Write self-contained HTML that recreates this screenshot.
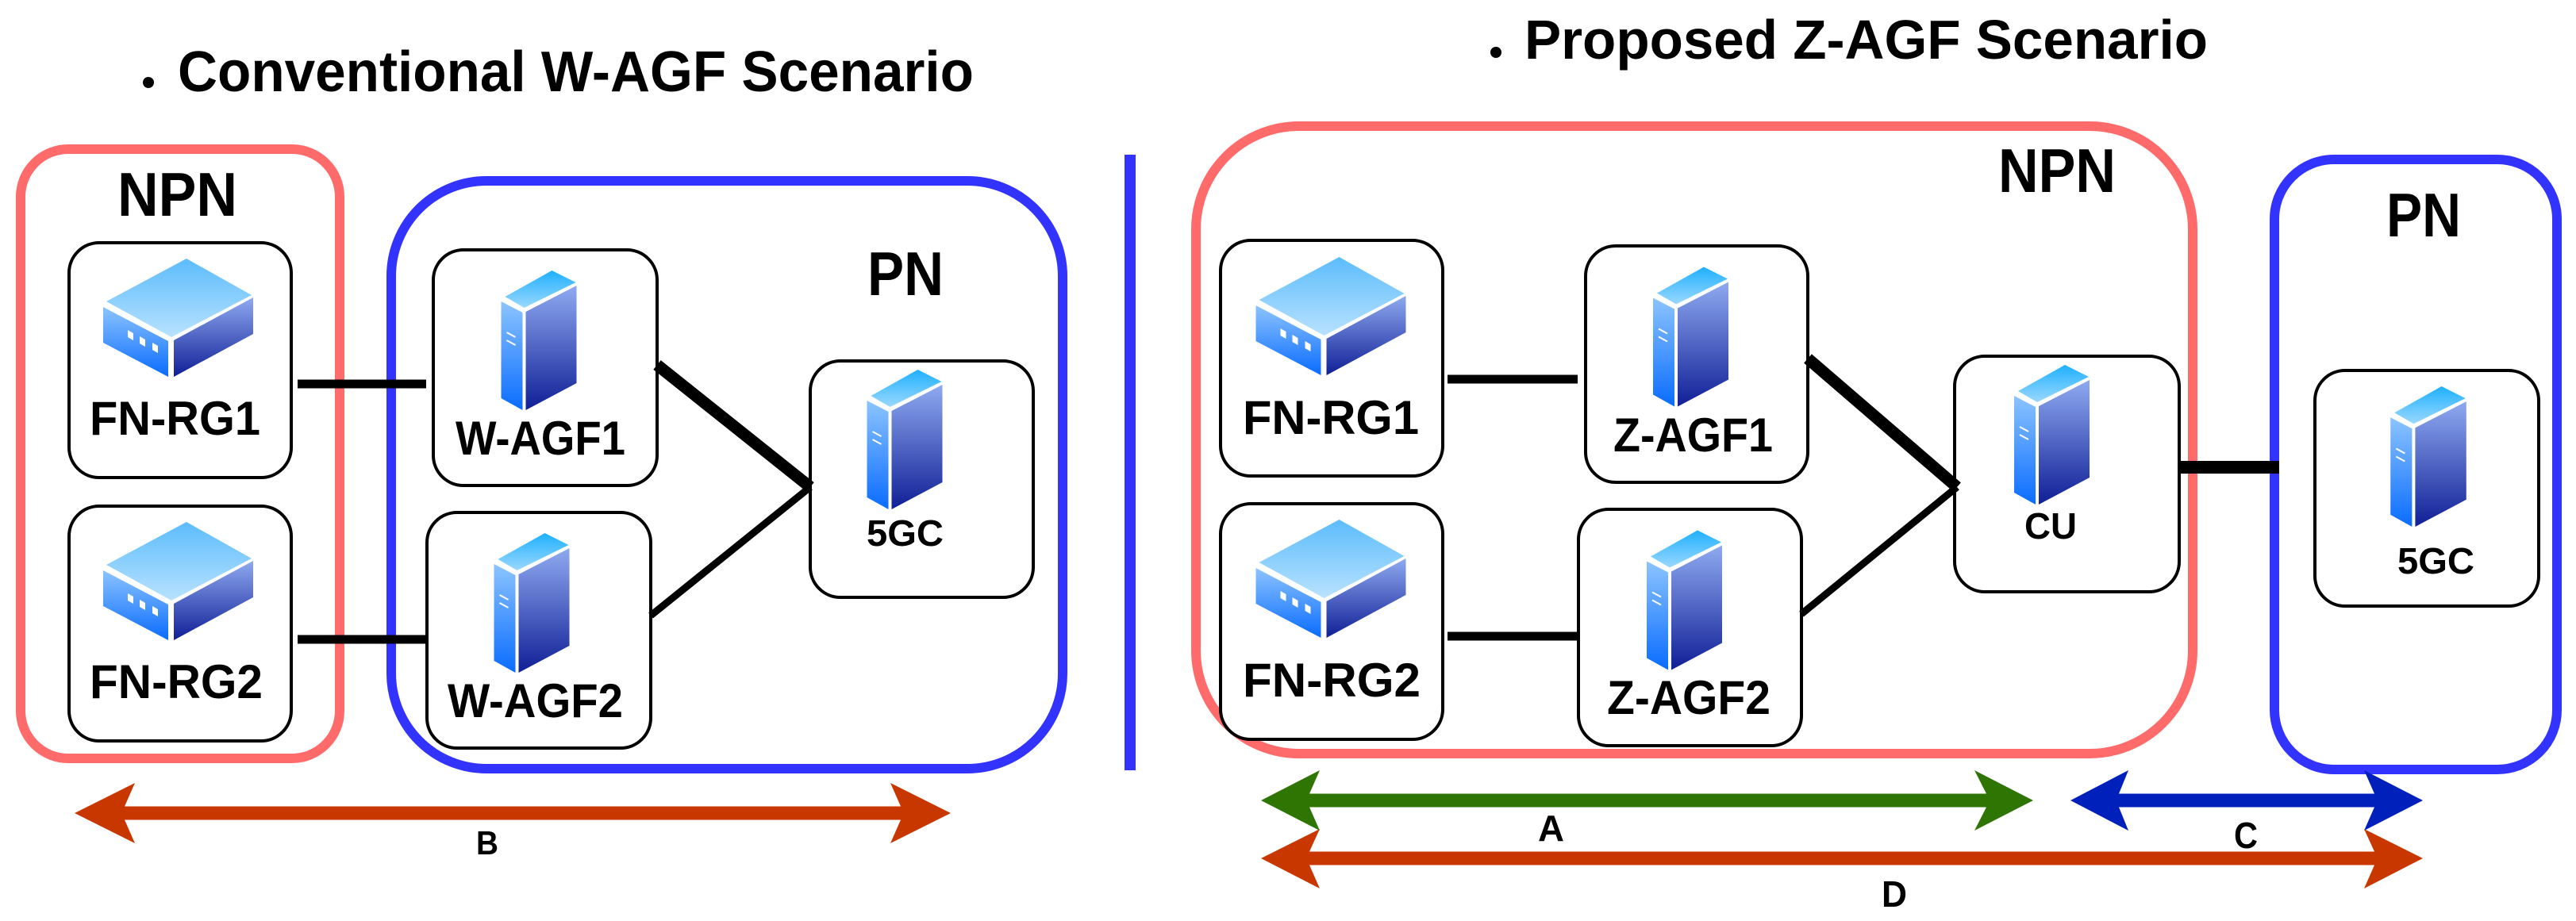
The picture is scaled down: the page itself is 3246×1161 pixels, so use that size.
<!DOCTYPE html>
<html><head><meta charset="utf-8"><style>
html,body{margin:0;padding:0;background:#fff;width:3246px;height:1161px;overflow:hidden}
svg{display:block}
text{font-family:"Liberation Sans",Arial,sans-serif;font-weight:bold;fill:#000}
</style></head><body>
<svg width="3246" height="1161" viewBox="0 0 3246 1161" xmlns="http://www.w3.org/2000/svg">
<defs>
<linearGradient id="gt" x1="0" y1="0" x2="0" y2="1"><stop offset="0" stop-color="#5cbcfb"/><stop offset="1" stop-color="#b8e2ff"/></linearGradient>
<linearGradient id="gl" x1="0" y1="0" x2="0" y2="1"><stop offset="0" stop-color="#8cc4ff"/><stop offset="1" stop-color="#0a6cff"/></linearGradient>
<linearGradient id="gr" x1="0" y1="0" x2="0" y2="1"><stop offset="0" stop-color="#8faaf0"/><stop offset="1" stop-color="#101f96"/></linearGradient>
<linearGradient id="gst" x1="0" y1="0" x2="0" y2="1"><stop offset="0" stop-color="#1fb0ff"/><stop offset="1" stop-color="#9ad8ff"/></linearGradient>
<symbol id="srv" viewBox="0 0 95 176">
<polygon points="5,33 64,0 94,15 29,47" fill="url(#gst)"/>
<polygon points="0,39 27,53 27,176 0,161" fill="url(#gl)"/>
<polygon points="31,52 95,19 95,142 31,176" fill="url(#gr)"/>
<line x1="7" y1="78" x2="18" y2="84" stroke="#fff" stroke-width="2"/>
<line x1="7" y1="88" x2="18" y2="94" stroke="#fff" stroke-width="2"/>
</symbol>
<symbol id="rtr" viewBox="0 0 189 149">
<polygon points="4,54 105,0 187,46 86,99" fill="url(#gt)"/>
<polygon points="0,61 82,104 82,149 0,106" fill="url(#gl)"/>
<polygon points="89,103 189,49 189,95 89,149" fill="url(#gr)"/>
<polygon points="31,90 38,94 38,103 31,99" fill="#fff"/>
<polygon points="46,98 53,102 53,111 46,107" fill="#fff"/>
<polygon points="62,106 69,110 69,119 62,115" fill="#fff"/>
</symbol>
</defs>

<!-- Left scenario -->
<circle cx="187" cy="104" r="7" fill="#000"/>
<text x="224" y="115" font-size="72" textLength="1003" lengthAdjust="spacingAndGlyphs">Conventional W-AGF Scenario</text>

<rect x="26" y="188" width="402" height="768" rx="60" fill="none" stroke="#ff6a6a" stroke-width="12"/>
<rect x="493" y="228" width="846" height="741" rx="120" fill="none" stroke="#3333ff" stroke-width="12"/>
<text x="148" y="272" font-size="78" textLength="151" lengthAdjust="spacingAndGlyphs">NPN</text>
<text x="1093" y="372" font-size="78" textLength="96" lengthAdjust="spacingAndGlyphs">PN</text>

<g stroke="#000" fill="#fff" stroke-width="4">
<rect x="87" y="306" width="280" height="296" rx="38"/>
<rect x="87" y="638" width="280" height="296" rx="38"/>
<rect x="546" y="315" width="282" height="297" rx="38"/>
<rect x="538" y="646" width="282" height="297" rx="38"/>
<rect x="1021" y="455" width="281" height="298" rx="38"/>
</g>
<g stroke="#000" stroke-linecap="butt">
<line x1="375" y1="484" x2="537" y2="484" stroke-width="11"/>
<line x1="375" y1="806" x2="537" y2="806" stroke-width="11"/>
<line x1="828" y1="460" x2="1021" y2="614" stroke-width="15"/>
<line x1="820" y1="776" x2="1021" y2="614" stroke-width="9"/>
</g>
<use href="#rtr" x="130" y="326" width="189" height="149"/>
<use href="#rtr" x="130" y="658" width="189" height="149"/>
<use href="#srv" x="631" y="341" width="96" height="176"/>
<use href="#srv" x="622" y="672" width="96" height="176"/>
<use href="#srv" x="1092" y="466" width="96" height="176"/>
<text x="113" y="548" font-size="60" textLength="215" lengthAdjust="spacingAndGlyphs">FN-RG1</text>
<text x="113" y="880" font-size="60" textLength="218" lengthAdjust="spacingAndGlyphs">FN-RG2</text>
<text x="574" y="573" font-size="60" textLength="214" lengthAdjust="spacingAndGlyphs">W-AGF1</text>
<text x="564" y="904" font-size="60" textLength="221" lengthAdjust="spacingAndGlyphs">W-AGF2</text>
<text x="1092" y="688" font-size="46" textLength="97" lengthAdjust="spacingAndGlyphs">5GC</text>

<polygon points="94,1025 170,987 157,1016.5 1135,1016.5 1122,987 1198,1025 1122,1063 1135,1033.5 157,1033.5 170,1063" fill="#c83700"/>
<text x="600" y="1077" font-size="42" textLength="28" lengthAdjust="spacingAndGlyphs">B</text>

<!-- divider -->
<rect x="1417" y="195" width="14" height="776" fill="#3333ff"/>

<!-- Right scenario -->
<circle cx="1885" cy="66" r="7" fill="#000"/>
<text x="1921" y="74" font-size="70" textLength="861" lengthAdjust="spacingAndGlyphs">Proposed Z-AGF Scenario</text>

<rect x="1507" y="159" width="1256" height="791" rx="130" fill="none" stroke="#ff6a6a" stroke-width="12"/>
<rect x="2866" y="201" width="356" height="769" rx="75" fill="none" stroke="#3333ff" stroke-width="12"/>
<text x="2518" y="242" font-size="78" textLength="148" lengthAdjust="spacingAndGlyphs">NPN</text>
<text x="3007" y="298" font-size="78" textLength="94" lengthAdjust="spacingAndGlyphs">PN</text>

<g stroke="#000" fill="#fff" stroke-width="4">
<rect x="1538" y="303" width="280" height="297" rx="38"/>
<rect x="1538" y="635" width="280" height="297" rx="38"/>
<rect x="1998" y="310" width="280" height="298" rx="38"/>
<rect x="1989" y="642" width="281" height="298" rx="38"/>
<rect x="2463" y="449" width="283" height="297" rx="38"/>
<rect x="2917" y="467" width="282" height="297" rx="38"/>
</g>
<g stroke="#000">
<line x1="1824" y1="478" x2="1988" y2="478" stroke-width="11"/>
<line x1="1824" y1="802" x2="1988" y2="802" stroke-width="11"/>
<line x1="2278" y1="452" x2="2466" y2="614" stroke-width="15"/>
<line x1="2270" y1="774" x2="2466" y2="614" stroke-width="9"/>
<line x1="2746" y1="589" x2="2872" y2="589" stroke-width="16"/>
</g>
<use href="#rtr" x="1581" y="324" width="192" height="149"/>
<use href="#rtr" x="1581" y="655" width="192" height="149"/>
<use href="#srv" x="2083" y="336" width="95" height="177"/>
<use href="#srv" x="2075" y="668" width="95" height="177"/>
<use href="#srv" x="2538" y="460" width="95" height="176"/>
<use href="#srv" x="3012" y="487" width="96" height="177"/>
<text x="1566" y="547" font-size="60" textLength="222" lengthAdjust="spacingAndGlyphs">FN-RG1</text>
<text x="1566" y="878" font-size="60" textLength="224" lengthAdjust="spacingAndGlyphs">FN-RG2</text>
<text x="2033" y="569" font-size="60" textLength="201" lengthAdjust="spacingAndGlyphs">Z-AGF1</text>
<text x="2025" y="900" font-size="60" textLength="206" lengthAdjust="spacingAndGlyphs">Z-AGF2</text>
<text x="2551" y="679" font-size="46" textLength="66" lengthAdjust="spacingAndGlyphs">CU</text>
<text x="3021" y="723" font-size="46" textLength="97" lengthAdjust="spacingAndGlyphs">5GC</text>

<polygon points="1589,1009 1663,971 1650,1000.5 2503,1000.5 2488,971 2562,1009 2488,1047 2503,1017.5 1650,1017.5 1663,1047" fill="#2e7503"/>
<polygon points="2609,1009 2682,971 2670,1000.5 2992,1000.5 2979,971 3053,1009 2979,1047 2992,1017.5 2670,1017.5 2682,1047" fill="#0020bb"/>
<polygon points="1589,1082 1663,1045 1650,1073.5 2992,1073.5 2979,1045 3053,1082 2979,1120 2992,1090.5 1650,1090.5 1663,1120" fill="#c83700"/>
<text x="1938" y="1060" font-size="46" textLength="33" lengthAdjust="spacingAndGlyphs">A</text>
<text x="2815" y="1069" font-size="46" textLength="30" lengthAdjust="spacingAndGlyphs">C</text>
<text x="2371" y="1143" font-size="46" textLength="32" lengthAdjust="spacingAndGlyphs">D</text>
</svg>
</body></html>
